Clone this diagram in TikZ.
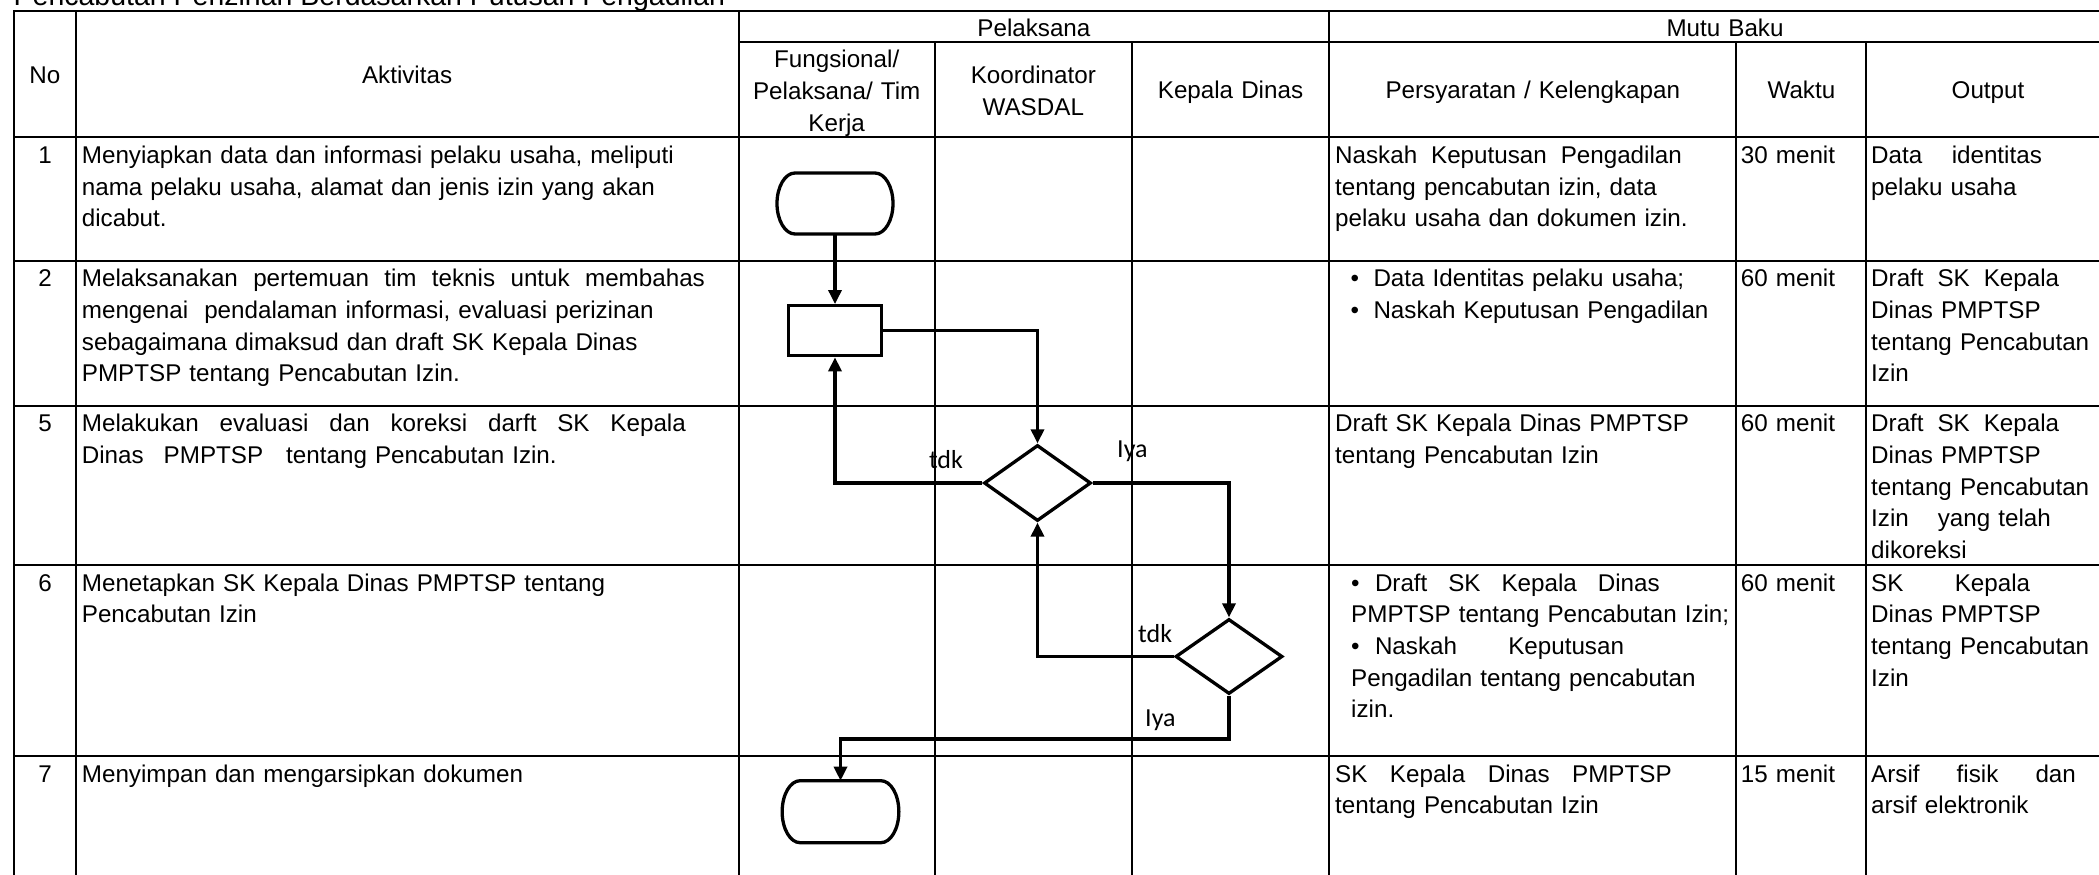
\documentclass[tikz,border=0pt]{standalone}
\usepackage{fontspec}
\setmainfont{Liberation Sans}
\newfontfamily\lblfont{Carlito}
\usetikzlibrary{arrows.meta,shapes.geometric,calc}
\newcommand\bodyfont{\fontsize{24.2pt}{31.7pt}\selectfont}
\newcommand\jfy[2]{\leavevmode\hbox to #1pt{#2}}
\newcommand\stadium[2]{%
  \draw[line width=3.3pt] ($(#1.north west)+(18,0)$) -- ($(#1.north east)+(-18,0)$)
    arc[start angle=90,end angle=-90,x radius=18pt,y radius=#2pt]
    -- ($(#1.south west)+(18,0)$)
    arc[start angle=270,end angle=90,x radius=18pt,y radius=#2pt] -- cycle;}
\begin{document}
\begin{tikzpicture}[x=1pt,y=-1pt,
  gridline/.style={line width=2pt, line cap=rect},
  flowline/.style={line width=3.3pt, -{Triangle[length=14pt,width=13pt]}},
  txt/.style={anchor=base west, inner sep=0pt, font=\bodyfont, text width=720pt, align=left},
  ctxt/.style={anchor=base, inner sep=0pt, font=\bodyfont, text width=400pt, align=center},
  num/.style={anchor=base, inner sep=0pt, font=\bodyfont},
  lbl/.style={anchor=base west, inner sep=0pt, font=\lblfont\fontsize{26pt}{30pt}\selectfont},
  termbox/.style={minimum width=116pt, minimum height=61pt, inner sep=0pt, outer sep=0pt},
  procbox/.style={draw, line width=3.3pt, minimum width=93pt, minimum height=50pt, inner sep=0pt},
  decbox/.style={draw, diamond, line width=3.3pt, minimum width=107pt, minimum height=76pt, inner sep=0pt},
]
\useasboundingbox (0,0) rectangle (2099,875);
\clip (0,0) rectangle (2099,875);
\fill[white] (0,0) rectangle (2099,875);

% title
\node[anchor=base west, inner sep=0pt, font=\fontsize{28.5pt}{34pt}\selectfont] (title) at (13.5,5.5) {Pencabutan Perizinan Berdasarkan Putusan Pengadilan};

% table lines
\draw[gridline] (14,11) -- (2120,11);
\draw[gridline] (738.5,42.3) -- (2120,42.3);
\foreach \yy in {137.3,260.7,406,565,756} {\draw[gridline] (14,\yy) -- (2120,\yy);}
\foreach \xx in {14,75.7,738.5,1329.2} {\draw[gridline] (\xx,11) -- (\xx,890);}
\foreach \xx in {934.9,1131.7,1736.4,1866.3} {\draw[gridline] (\xx,42.3) -- (\xx,890);}

% header
\node[ctxt] (hpel) at (1033.9,37) {Pelaksana};
\node[ctxt] (hmutu) at (1725,37) {Mutu Baku};
\node[num] (hno) at (44.8,83.5) {No};
\node[ctxt] (hakt) at (407.1,83.5) {Aktivitas};
\node[ctxt] (hfung) at (836.7,68) {Fungsional/\\Pelaksana/ Tim\\Kerja};
\node[ctxt] (hkoord) at (1033.3,84) {Koordinator\\WASDAL};
\node[ctxt] (hkadis) at (1230.5,99) {Kepala Dinas};
\node[ctxt] (hpers) at (1532.8,99) {Persyaratan / Kelengkapan};
\node[ctxt] (hwaktu) at (1801.4,99) {Waktu};
\node[ctxt] (hout) at (1988,99) {Output};

% numbers
\node[num] (n1) at (45,163.3) {1};
\node[num] (n2) at (45,286.7) {2};
\node[num] (n5) at (45,431.7) {5};
\node[num] (n6) at (45,591) {6};
\node[num] (n7) at (45,782) {7};

% aktivitas
\node[txt] (a1) at (81.7,163.3) {Menyiapkan data dan informasi pelaku usaha, meliputi\\nama pelaku usaha, alamat dan jenis izin yang akan\\dicabut.};
\node[txt] (a2) at (81.7,286.7) {\jfy{623}{Melaksanakan\hfil pertemuan\hfil tim\hfil teknis\hfil untuk\hfil membahas}\\mengenai\ \ pendalaman informasi, evaluasi perizinan\\sebagaimana dimaksud dan draft SK Kepala Dinas\\PMPTSP tentang Pencabutan Izin.};
\node[txt] (a5) at (81.7,431.7) {\jfy{604}{Melakukan\hfil evaluasi\hfil dan\hfil koreksi\hfil darft\hfil SK\hfil Kepala}\\Dinas\hspace{20pt}PMPTSP\hspace{23pt}tentang Pencabutan Izin.};
\node[txt] (a6) at (81.7,591) {Menetapkan SK Kepala Dinas PMPTSP tentang\\Pencabutan Izin};
\node[txt] (a7) at (81.7,782) {Menyimpan dan mengarsipkan dokumen};

% persyaratan
\node[txt] (p1) at (1335,163.3) {\jfy{346.7}{Naskah\hfil Keputusan\hfil Pengadilan}\\tentang pencabutan izin, data\\pelaku usaha dan dokumen izin.};
\node[txt] (p2) at (1350.5,286.7) {\makebox[22.8pt][l]{•}Data Identitas pelaku usaha;\\\makebox[22.8pt][l]{•}Naskah Keputusan Pengadilan};
\node[txt] (p5) at (1335,431.7) {Draft SK Kepala Dinas PMPTSP\\tentang Pencabutan Izin};
\node[txt] (p6) at (1351,591) {\makebox[23.8pt][l]{•}\jfy{284.7}{Draft\hfil SK\hfil Kepala\hfil Dinas}\\PMPTSP tentang Pencabutan Izin;\\\makebox[23.8pt][l]{•}\jfy{249}{Naskah\hfil Keputusan}\\Pengadilan tentang pencabutan\\izin.};
\node[txt] (p7) at (1335,782) {\jfy{336.5}{SK\hfil Kepala\hfil Dinas\hfil PMPTSP}\\tentang Pencabutan Izin};

% waktu
\node[txt] (w1) at (1740.7,163.3) {30 menit};
\node[txt] (w2) at (1740.7,286.7) {60 menit};
\node[txt] (w5) at (1740.7,431.7) {60 menit};
\node[txt] (w6) at (1740.7,591) {60 menit};
\node[txt] (w7) at (1740.7,782) {15 menit};

% output
\node[txt] (o1) at (1871,163.3) {\jfy{170.7}{Data\hfil identitas}\\pelaku usaha};
\node[txt] (o2) at (1871,286.7) {\jfy{188}{Draft\hfil SK\hfil Kepala}\\Dinas PMPTSP\\tentang Pencabutan\\Izin};
\node[txt] (o5) at (1871,431.7) {\jfy{188}{Draft\hfil SK\hfil Kepala}\\Dinas PMPTSP\\tentang Pencabutan\\Izin\hspace{29pt}yang telah\\dikoreksi};
\node[txt] (o6) at (1871,591) {\jfy{159}{SK\hfil Kepala}\\Dinas PMPTSP\\tentang Pencabutan\\Izin};
\node[txt] (o7) at (1871,782) {\jfy{204.7}{Arsif\hfil fisik\hfil dan}\\arsif elektronik};

% flowchart
\node[termbox] (t1) at (835,203.5) {};
\stadium{t1}{30.5}
\node[procbox] (r1) at (835,330.7) {};
\node[decbox] (d1) at (1037.5,483) {};
\node[decbox, minimum height=75pt] (d2) at (1229,656.5) {};
\node[termbox, minimum width=116.7pt, minimum height=62pt] (t2) at (840.5,811.7) {};
\stadium{t2}{31}
\coordinate (c1) at (1229,739);
\draw[flowline] (t1.south) -- (r1.north);
\draw[flowline] (r1.east) -| (d1.north);
\draw[flowline] (d1.west) -| (r1.south);
\draw[flowline] (d1.east) -| (d2.north);
\draw[flowline] (d2.west) -| (d1.south);
\draw[flowline] (d2.south) -- (c1) -| (t2.north);

\node[lbl] (l1) at (928.8,468) {tdk};
\node[lbl] (l2) at (1117,457.5) {Iya};
\node[lbl] (l3) at (1138,642.5) {tdk};
\node[lbl] (l4) at (1145,726.7) {Iya};
\end{tikzpicture}
\end{document}
